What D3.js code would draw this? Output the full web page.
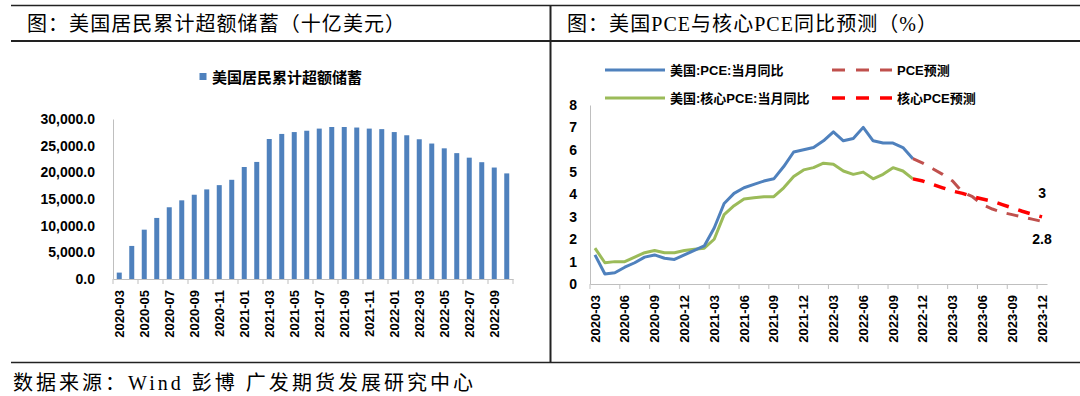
<!DOCTYPE html>
<html lang="zh">
<head>
<meta charset="UTF-8">
<title>美国居民超额储蓄与PCE预测</title>
<script src="https://d3js.org/d3.v7.min.js"></script>
<style>
body { margin: 0; background: #fff; }
svg { display: block; }
.title { font: 20px "Liberation Serif", "Noto Sans CJK SC", serif; fill: #000; }
.ylab text { font: bold 14px "Liberation Sans", Arial, sans-serif; fill: #000; }
.xlab text { font: bold 13px "Liberation Sans", Arial, sans-serif; fill: #000; }
.axis path, .axis line { stroke: #bfbfbf; }
.legend { font-family: "Liberation Sans", Arial, "Noto Sans CJK SC", sans-serif; font-weight: bold; fill: #000; }
.dlabel { font: bold 14px "Liberation Sans", Arial, sans-serif; fill: #000; text-anchor: middle; }
</style>
</head>
<body>
<svg width="1080" height="396"></svg>
<script>
// ---- left: 美国居民累计超额储蓄（十亿美元）
var savingMonths = ["2020-03","2020-04","2020-05","2020-06","2020-07","2020-08","2020-09","2020-10",
  "2020-11","2020-12","2021-01","2021-02","2021-03","2021-04","2021-05","2021-06","2021-07","2021-08",
  "2021-09","2021-10","2021-11","2021-12","2022-01","2022-02","2022-03","2022-04","2022-05","2022-06",
  "2022-07","2022-08","2022-09","2022-10"];
var savingValues = [1200, 6200, 9250, 11450, 13450, 14750, 15800, 16800, 17600, 18600, 21000, 21950,
  26250, 27200, 27550, 27800, 28200, 28500, 28500, 28400, 28200, 28100, 27550, 26950, 26200, 25400,
  24500, 23600, 22750, 21900, 20900, 19800];
var savingTicks = [0, 5000, 10000, 15000, 20000, 25000, 30000];

// ---- right: 美国PCE与核心PCE同比预测（%）
var pceMonths = ["2020-03","2020-04","2020-05","2020-06","2020-07","2020-08","2020-09","2020-10",
  "2020-11","2020-12","2021-01","2021-02","2021-03","2021-04","2021-05","2021-06","2021-07","2021-08",
  "2021-09","2021-10","2021-11","2021-12","2022-01","2022-02","2022-03","2022-04","2022-05","2022-06",
  "2022-07","2022-08","2022-09","2022-10","2022-11","2022-12","2023-01","2023-02","2023-03","2023-04",
  "2023-05","2023-06","2023-07","2023-08","2023-09","2023-10","2023-11","2023-12"];
var pceActual = [1.3, 0.45, 0.5, 0.75, 0.95, 1.2, 1.3, 1.15, 1.1, 1.3, 1.5, 1.7, 2.5, 3.6, 4.05, 4.3,
  4.45, 4.6, 4.7, 5.25, 5.9, 6.0, 6.1, 6.4, 6.8, 6.4, 6.5, 7.0, 6.4, 6.3, 6.3, 6.1, 5.6];
var corePceActual = [1.6, 0.95, 1.0, 1.0, 1.2, 1.4, 1.5, 1.4, 1.4, 1.5, 1.55, 1.6, 2.0, 3.1, 3.5, 3.8,
  3.85, 3.9, 3.9, 4.3, 4.8, 5.1, 5.2, 5.4, 5.35, 5.05, 4.9, 5.0, 4.7, 4.9, 5.2, 5.05, 4.7];
var forecastMonths = ["2022-11","2022-12","2023-01","2023-02","2023-03","2023-04","2023-05","2023-06",
  "2023-07","2023-08","2023-09","2023-10","2023-11","2023-12"];
var pceForecast = [5.6, 5.4, 5.15, 4.9, 4.6, 4.1, 3.9, 3.55, 3.35, 3.2, 3.1, 3.0, 2.9, 2.8];
var corePceForecast = [4.7, 4.6, 4.45, 4.3, 4.15, 4.05, 3.9, 3.8, 3.7, 3.55, 3.4, 3.25, 3.12, 3.0];
var pceTicks = [0, 1, 2, 3, 4, 5, 6, 7, 8];

var svg = d3.select("svg");

// frame lines
svg.append("line").attr("x1", 11).attr("x2", 1080).attr("y1", 5.5).attr("y2", 5.5)
  .attr("stroke", "#222").attr("stroke-width", 1.5);
svg.append("line").attr("x1", 11).attr("x2", 1080).attr("y1", 41).attr("y2", 41)
  .attr("stroke", "#222").attr("stroke-width", 2);
svg.append("line").attr("x1", 11).attr("x2", 1080).attr("y1", 362.5).attr("y2", 362.5)
  .attr("stroke", "#222").attr("stroke-width", 1.5);
svg.append("line").attr("x1", 550.5).attr("x2", 550.5).attr("y1", 5).attr("y2", 363)
  .attr("stroke", "#222").attr("stroke-width", 2);

svg.append("text").attr("class", "title").attr("x", 27).attr("y", 31)
  .attr("textLength", 378).attr("lengthAdjust", "spacing")
  .text("图：美国居民累计超额储蓄（十亿美元）");
svg.append("text").attr("class", "title").attr("x", 567).attr("y", 31)
  .attr("textLength", 370).attr("lengthAdjust", "spacing")
  .text("图：美国PCE与核心PCE同比预测（%）");
svg.append("text").attr("class", "title").attr("x", 13).attr("y", 390)
  .attr("textLength", 460).attr("lengthAdjust", "spacing")
  .text("数据来源：Wind 彭博 广发期货发展研究中心");

// category axis: labels centred on categories, ticks on category boundaries
function catAxis(g, x, every, yPos) {
  var labelled = x.domain().filter(function(d, i) { return i % every === 0; });
  var ax = g.append("g").attr("class", "axis xlab").attr("transform", "translate(0," + yPos + ")")
    .call(d3.axisBottom(x).tickValues(labelled).tickSize(0).tickSizeOuter(0));
  ax.selectAll(".tick text")
    .attr("transform", "rotate(-90)")
    .attr("text-anchor", "end")
    .attr("x", -11).attr("y", 0).attr("dy", "0.35em");
  var n = x.domain().length;
  var bounds = d3.range(0, n + 1, every);
  g.selectAll(null).data(bounds).enter().append("line")
    .attr("x1", function(i) { return x.range()[0] + i * x.step(); })
    .attr("x2", function(i) { return x.range()[0] + i * x.step(); })
    .attr("y1", yPos).attr("y2", yPos + 5)
    .attr("stroke", "#bfbfbf");
}

// ---------- left chart ----------
var left = svg.append("g");
var xs = d3.scaleBand().domain(savingMonths).range([113, 513]).paddingInner(0.6).paddingOuter(0.3);
var xsCat = d3.scaleBand().domain(savingMonths).range([113, 513]);
var ys = d3.scaleLinear().domain([0, 30000]).range([279, 119]);

left.append("g").attr("class", "axis ylab").attr("transform", "translate(113,0)")
  .call(d3.axisLeft(ys).tickValues(savingTicks).tickSize(0).tickSizeOuter(0).tickPadding(18)
    .tickFormat(d3.format(",.1f")));

left.selectAll("rect.bar").data(savingValues).enter().append("rect")
  .attr("class", "bar")
  .attr("x", function(d, i) { return xsCat(savingMonths[i]) + xsCat.bandwidth() / 2 - xs.bandwidth() / 2; })
  .attr("width", xs.bandwidth())
  .attr("y", function(d) { return ys(d); })
  .attr("height", function(d) { return ys(0) - ys(d); })
  .attr("fill", "#4F81BD");

catAxis(left, xsCat, 2, 279);

left.append("rect").attr("x", 199.5).attr("y", 73).attr("width", 7).attr("height", 7).attr("fill", "#4F81BD");
left.append("text").attr("class", "legend").attr("x", 212).attr("y", 77)
  .attr("dominant-baseline", "central").style("font-size", "15px").text("美国居民累计超额储蓄");

// ---------- right chart ----------
var right = svg.append("g");
var xp = d3.scaleBand().domain(pceMonths).range([590, 1047]);
var yp = d3.scaleLinear().domain([0, 8]).range([284, 105]);

right.append("g").attr("class", "axis ylab").attr("transform", "translate(590,0)")
  .call(d3.axisLeft(yp).tickValues(pceTicks).tickSize(0).tickSizeOuter(0).tickPadding(13)
    .tickFormat(d3.format("d")));
catAxis(right, xp, 3, 284);

function pts(months, values) {
  return values.map(function(v, i) { return { m: months[i], v: v }; });
}
var line = d3.line()
  .x(function(d) { return xp(d.m) + xp.bandwidth() / 2; })
  .y(function(d) { return yp(d.v); });

var series = [
  { data: pts(pceMonths, corePceActual), color: "#9BBB59", w: 3, dash: null },
  { data: pts(pceMonths, pceActual), color: "#4F81BD", w: 3, dash: null },
  { data: pts(forecastMonths, pceForecast), color: "#C0504D", w: 3, dash: "12,10" },
  { data: pts(forecastMonths, corePceForecast), color: "#FF0000", w: 3.5, dash: "12,10" }
];
series.forEach(function(s) {
  right.append("path").datum(s.data)
    .attr("d", line).attr("fill", "none")
    .attr("stroke", s.color).attr("stroke-width", s.w)
    .attr("stroke-linejoin", "round")
    .attr("stroke-dasharray", s.dash);
});

// end-point data labels
var lastM = forecastMonths[forecastMonths.length - 1];
var lastCore = corePceForecast[corePceForecast.length - 1];
var lastPce = pceForecast[pceForecast.length - 1];
right.append("text").attr("class", "dlabel")
  .attr("x", xp(lastM) + xp.bandwidth() / 2).attr("y", yp(lastCore) - 19)
  .text(String(lastCore));
right.append("text").attr("class", "dlabel")
  .attr("x", xp(lastM) + xp.bandwidth() / 2).attr("y", yp(lastPce) + 23)
  .text(String(lastPce));

// legend
var legendItems = [
  { name: "美国:PCE:当月同比", color: "#4F81BD", w: 3, dash: null, x: 605, y: 70 },
  { name: "美国:核心PCE:当月同比", color: "#9BBB59", w: 3, dash: null, x: 605, y: 98 },
  { name: "PCE预测", color: "#C0504D", w: 3, dash: "13,11", x: 832, y: 70 },
  { name: "核心PCE预测", color: "#FF0000", w: 3.5, dash: "13,11", x: 832, y: 98 }
];
legendItems.forEach(function(it) {
  right.append("line").attr("x1", it.x).attr("x2", it.x + 60).attr("y1", it.y).attr("y2", it.y)
    .attr("stroke", it.color).attr("stroke-width", it.w).attr("stroke-dasharray", it.dash);
  right.append("text").attr("class", "legend").attr("x", it.x + 65).attr("y", it.y)
    .attr("dominant-baseline", "central").style("font-size", "13px").text(it.name);
});
</script>
</body>
</html>
